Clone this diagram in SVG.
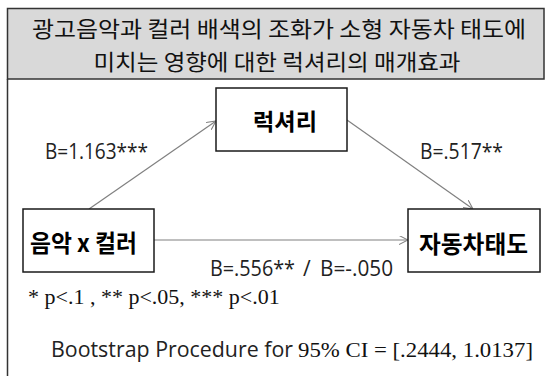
<svg xmlns="http://www.w3.org/2000/svg" width="546" height="376" viewBox="0 0 546 376">
<defs>
<style>
.box{fill:#fff;stroke:#1a1a1a;stroke-width:1.5}
.node{font-family:"Noto Sans CJK KR","Noto Sans",sans-serif;font-weight:bold;fill:#000}
.title{font-family:"Noto Sans CJK KR",sans-serif;font-size:22px;fill:#111}
.lab{font-family:"Open Sans","Noto Sans",sans-serif;font-size:21px;fill:#222}
.ser{font-family:"Liberation Serif",serif;font-size:22px;fill:#111}
.conn{stroke:#808080;stroke-width:1.2;fill:none}
</style>
<marker id="arr" viewBox="0 0 10 10" refX="10" refY="5" markerWidth="9" markerHeight="9" markerUnits="userSpaceOnUse" orient="auto">
<path d="M0,0 L10,5 L0,10" fill="none" stroke="#808080" stroke-width="1.2"/>
</marker>
</defs>
<rect width="546" height="376" fill="#fff"/>
<g id="frame">
<rect x="7.5" y="8.5" width="536.5" height="70.5" fill="#d9d9d9" stroke="#333" stroke-width="1.5"/>
<line x1="7.5" y1="79" x2="7.5" y2="376" stroke="#333" stroke-width="1.5"/>
</g>
<g id="title">
<text class="title" x="279" y="37" text-anchor="middle" textLength="494" lengthAdjust="spacingAndGlyphs">광고음악과 컬러 배색의 조화가 소형 자동차 태도에</text>
<text class="title" x="277" y="70" text-anchor="middle" textLength="367" lengthAdjust="spacingAndGlyphs">미치는 영향에 대한 럭셔리의 매개효과</text>
</g>
<g id="connectors">
<line class="conn" x1="89" y1="209" x2="216" y2="121" marker-end="url(#arr)"/>
<line class="conn" x1="347" y1="120" x2="473" y2="209" marker-end="url(#arr)"/>
<line class="conn" x1="154" y1="240" x2="408" y2="240" marker-end="url(#arr)"/>
</g>
<g id="node-luxury">
<rect class="box" x="216" y="88" width="131" height="63"/>
<text class="node" x="285" y="130" font-size="23" text-anchor="middle" textLength="64" lengthAdjust="spacingAndGlyphs">럭셔리</text>
</g>
<g id="node-music-color">
<rect class="box" x="23" y="209" width="131" height="63"/>
<text class="node" x="30" y="252" font-size="24" textLength="107" lengthAdjust="spacingAndGlyphs">음악 x 컬러</text>
</g>
<g id="node-attitude">
<rect class="box" x="408" y="209" width="132" height="63"/>
<text class="node" x="419" y="253" font-size="24" textLength="109" lengthAdjust="spacingAndGlyphs">자동차태도</text>
</g>
<g id="labels">
<text class="lab" x="45" y="159" textLength="103" lengthAdjust="spacingAndGlyphs">B=1.163***</text>
<text class="lab" x="420" y="159" textLength="83" lengthAdjust="spacingAndGlyphs">B=.517**</text>
<text class="lab" x="210" y="276" textLength="85" lengthAdjust="spacingAndGlyphs">B=.556**</text>
<text class="lab" x="303" y="276" fill="#999">/</text>
<text class="lab" x="320" y="276" textLength="73" lengthAdjust="spacingAndGlyphs">B=-.050</text>
<text class="ser" x="28" y="304">* p&lt;.1 , ** p&lt;.05, *** p&lt;.01</text>
<text class="lab" x="51" y="357" textLength="242" lengthAdjust="spacingAndGlyphs">Bootstrap Procedure for</text>
<text class="ser" x="298" y="357" textLength="235" lengthAdjust="spacingAndGlyphs">95% CI = [.2444, 1.0137]</text>
</g>
</svg>
